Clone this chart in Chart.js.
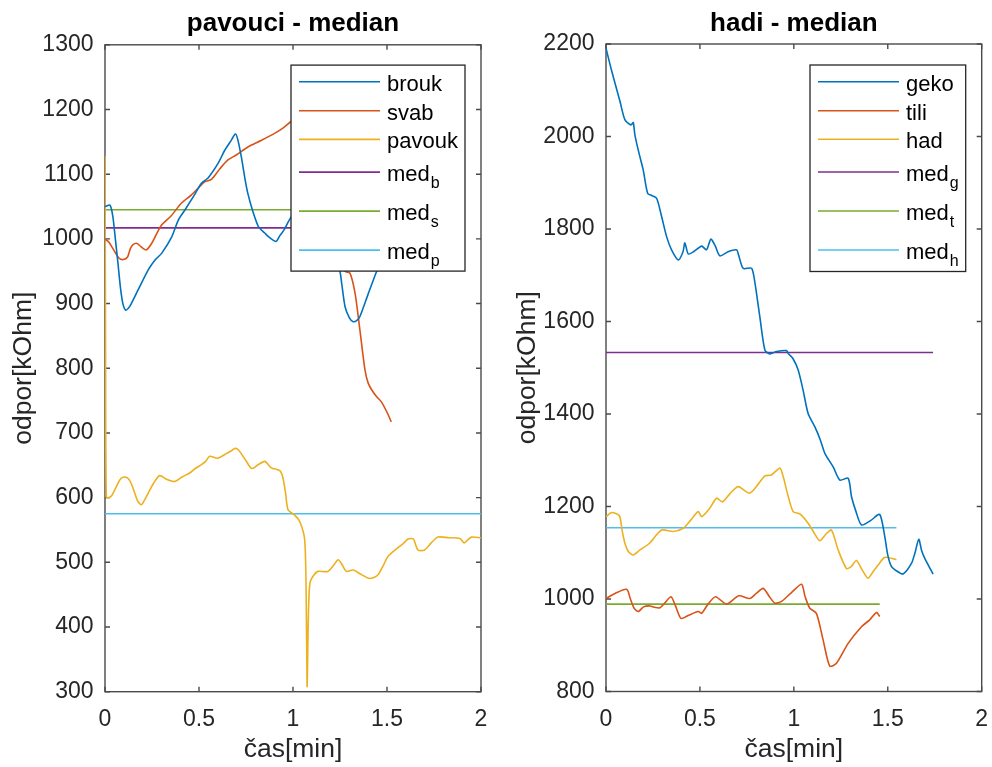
<!DOCTYPE html>
<html>
<head>
<meta charset="utf-8">
<title>pavouci / hadi - median</title>
<script src="https://cdn.jsdelivr.net/npm/chart.js@4/dist/chart.umd.min.js"></script>
<style>
  html, body { margin: 0; padding: 0; background: #ffffff; }
  #wrap { position: relative; width: 992px; height: 767px; overflow: hidden; }
  .pane { position: absolute; top: 0; width: 496px; height: 767px; }
</style>
</head>
<body>
<div id="wrap">
  <div class="pane" style="left:0"><canvas id="spiders" width="496" height="767"></canvas></div>
  <div class="pane" style="left:496px"><canvas id="snakes" width="496" height="767"></canvas></div>
</div>
<script>
// ---- tick values ----
const timeTicks = [0, 0.5, 1, 1.5, 2];
const spiderTicks = [300, 400, 500, 600, 700, 800, 900, 1000, 1100, 1200, 1300];
const snakeTicks = [800, 1000, 1200, 1400, 1600, 1800, 2000, 2200];

// ---- pavouci: resistance [kOhm] over time [min] ----
const broukT = [0, 0.027, 0.042, 0.055, 0.069, 0.082, 0.095, 0.11, 0.125, 0.14, 0.176, 0.23, 0.265, 0.302, 0.355, 0.39, 0.426, 0.48, 0.513, 0.548, 0.602, 0.637, 0.673, 0.693, 0.705, 0.725, 0.745, 0.76, 0.787, 0.816, 0.85, 0.88, 0.91, 0.93, 0.955, 0.98, 1.05, 1.12, 1.18, 1.249, 1.259, 1.277, 1.3, 1.32, 1.34, 1.356, 1.40, 1.445, 1.48, 1.5];
const broukV = [1050, 1052, 1034, 1000, 962, 925, 900, 890, 893, 900, 921, 952, 967, 978, 1003, 1029, 1045, 1070, 1086, 1094, 1117, 1137, 1153, 1162, 1155, 1127, 1092, 1070, 1042, 1019, 1009, 1001, 996, 1005, 1015, 1029, 1058, 1040, 1000, 950, 931, 895, 878, 872, 874, 880, 915, 950, 975, 985];

const svabT = [0, 0.02, 0.052, 0.075, 0.097, 0.12, 0.135, 0.149, 0.17, 0.195, 0.22, 0.248, 0.275, 0.3, 0.35, 0.406, 0.46, 0.53, 0.566, 0.61, 0.654, 0.7, 0.76, 0.83, 0.902, 0.95, 0.988, 1.05, 1.12, 1.18, 1.23, 1.277, 1.303, 1.33, 1.356, 1.383, 1.40, 1.42, 1.445, 1.47, 1.50, 1.523];
const svabV = [1000, 995, 980, 970, 968, 972, 985, 991, 993, 987, 983, 993, 1008, 1021, 1035, 1055, 1068, 1088, 1092, 1108, 1122, 1130, 1142, 1152, 1163, 1172, 1181, 1190, 1195, 1150, 1010, 950, 947, 916, 859, 797, 777, 766, 756, 748, 732, 717];

const pavoukT = [0, 0.003, 0.007, 0.02, 0.035, 0.052, 0.078, 0.09, 0.105, 0.118, 0.13, 0.145, 0.158, 0.175, 0.194, 0.21, 0.23, 0.26, 0.291, 0.33, 0.37, 0.41, 0.45, 0.48, 0.513, 0.535, 0.557, 0.6, 0.645, 0.67, 0.69, 0.705, 0.72, 0.75, 0.78, 0.81, 0.85, 0.885, 0.92, 0.935, 0.947, 0.96, 0.974, 1.009, 1.036, 1.062, 1.07, 1.075, 1.082, 1.09, 1.11, 1.133, 1.186, 1.215, 1.24, 1.26, 1.284, 1.32, 1.364, 1.408, 1.45, 1.48, 1.505, 1.56, 1.59, 1.612, 1.64, 1.665, 1.70, 1.735, 1.771, 1.83, 1.887, 1.91, 1.93, 1.95, 2.0];
const pavoukV = [1128, 850, 601, 600, 603, 612, 627, 631, 632, 631, 627, 618, 607, 594, 589, 596, 607, 623, 634, 628, 625, 632, 638, 645, 651, 656, 664, 661, 668, 672, 676, 675, 670, 657, 645, 650, 656, 646, 643, 640, 630, 608, 581, 573, 563, 535, 450, 308, 420, 468, 480, 486, 486, 495, 504, 497, 486, 488, 481, 475, 480, 495, 509, 523, 530, 536, 536, 519, 519, 530, 539, 538, 537, 530, 535, 539, 538];

const spiderMedians = [1017, 1045, 575];
const spiderMedianEnds = [1.5, 1.523, 2.0];

// ---- hadi: resistance [kOhm] over time [min] ----
const gekoT = [0, 0.025, 0.048, 0.075, 0.101, 0.133, 0.145, 0.154, 0.175, 0.198, 0.222, 0.245, 0.27, 0.296, 0.323, 0.349, 0.385, 0.41, 0.42, 0.438, 0.47, 0.509, 0.535, 0.558, 0.58, 0.606, 0.65, 0.695, 0.705, 0.73, 0.775, 0.793, 0.805, 0.819, 0.846, 0.872, 0.908, 0.961, 0.97, 0.995, 1.023, 1.05, 1.076, 1.112, 1.14, 1.165, 1.21, 1.245, 1.289, 1.307, 1.33, 1.36, 1.41, 1.457, 1.484, 1.5, 1.52, 1.55, 1.581, 1.626, 1.645, 1.665, 1.68, 1.697, 1.741];
const gekoV = [2191, 2150, 2115, 2075, 2036, 2025, 2030, 2003, 1965, 1928, 1877, 1872, 1866, 1827, 1783, 1755, 1733, 1751, 1770, 1746, 1752, 1763, 1755, 1778, 1765, 1742, 1751, 1755, 1745, 1715, 1715, 1683, 1650, 1610, 1538, 1530, 1535, 1537, 1531, 1520, 1495, 1450, 1401, 1372, 1345, 1315, 1285, 1257, 1261, 1221, 1190, 1160, 1170, 1183, 1135, 1095, 1070, 1060, 1054, 1077, 1100, 1129, 1105, 1088, 1054];

const tiliT = [0, 0.048, 0.11, 0.13, 0.15, 0.172, 0.2, 0.234, 0.26, 0.287, 0.31, 0.346, 0.37, 0.399, 0.44, 0.491, 0.509, 0.545, 0.583, 0.642, 0.707, 0.766, 0.8, 0.837, 0.87, 0.899, 0.935, 0.99, 1.041, 1.06, 1.085, 1.12, 1.156, 1.191, 1.227, 1.289, 1.36, 1.404, 1.44, 1.457];
const tiliV = [1001, 1012, 1021, 1000, 980, 973, 983, 985, 982, 981, 990, 1005, 985, 958, 965, 973, 969, 990, 1005, 989, 1007, 1001, 1012, 1023, 1005, 991, 995, 1015, 1032, 1005, 980, 969, 911, 855, 861, 904, 940, 955, 971, 962];

const hadT = [0, 0.03, 0.071, 0.085, 0.101, 0.12, 0.145, 0.181, 0.23, 0.296, 0.358, 0.411, 0.45, 0.491, 0.509, 0.55, 0.589, 0.62, 0.66, 0.704, 0.766, 0.846, 0.88, 0.926, 0.945, 0.961, 0.996, 1.032, 1.076, 1.105, 1.138, 1.17, 1.2, 1.236, 1.28, 1.305, 1.333, 1.365, 1.395, 1.42, 1.45, 1.484, 1.546];
const hadV = [1178, 1187, 1180, 1150, 1120, 1102, 1095, 1106, 1120, 1149, 1146, 1153, 1170, 1189, 1178, 1195, 1218, 1210, 1228, 1243, 1229, 1266, 1268, 1283, 1262, 1236, 1189, 1184, 1164, 1145, 1126, 1140, 1149, 1106, 1066, 1070, 1083, 1062, 1045, 1058, 1074, 1090, 1085];

const snakeMedians = [1533, 989, 1154];
const snakeMedianEnds = [1.741, 1.457, 1.546];

// ---- styling ----
const FONT = "'Liberation Sans', Arial, Helvetica, sans-serif";
const INK = '#262626';
const LINE_COLORS = ['#0072BD', '#D95319', '#EDB120', '#7E2F8E', '#77AC30', '#4DBEEE'];
Chart.defaults.font.family = FONT;
Chart.defaults.color = INK;

const points = (t, v) => t.map((x, i) => ({ x, y: v[i] }));
const flatLine = (value, end) => [{ x: 0, y: value }, { x: end, y: value }];

function series(label, data, idx) {
  return {
    label, data,
    borderColor: LINE_COLORS[idx],
    backgroundColor: LINE_COLORS[idx],
    borderWidth: 1.6,
    pointRadius: 0,
    tension: 0.25,
    fill: false
  };
}

// Axes frame with inward tick marks on all four sides
const axesBox = {
  id: 'axesBox',
  beforeDatasetsDraw(chart) {
    const { ctx, chartArea: a, scales: { x, y } } = chart;
    const L = 5;
    ctx.save();
    ctx.strokeStyle = '#4a4a4a';
    ctx.lineWidth = 1.4;
    ctx.beginPath();
    x.ticks.forEach(t => {
      const px = x.getPixelForValue(t.value);
      ctx.moveTo(px, a.bottom); ctx.lineTo(px, a.bottom - L);
      ctx.moveTo(px, a.top); ctx.lineTo(px, a.top + L);
    });
    y.ticks.forEach(t => {
      const py = y.getPixelForValue(t.value);
      ctx.moveTo(a.left, py); ctx.lineTo(a.left + L, py);
      ctx.moveTo(a.right, py); ctx.lineTo(a.right - L, py);
    });
    ctx.stroke();
    ctx.strokeRect(a.left, a.top, a.right - a.left, a.bottom - a.top);
    ctx.restore();
  }
};

// Legend box drawn inside the axes (north-east corner)
const insetLegend = {
  id: 'insetLegend',
  afterDatasetsDraw(chart, args, opts) {
    const { ctx, chartArea: a } = chart;
    const bx = a.right - opts.right - opts.width;
    const by = a.top + opts.top;
    ctx.save();
    ctx.fillStyle = '#ffffff';
    ctx.fillRect(bx, by, opts.width, opts.height);
    ctx.strokeStyle = INK;
    ctx.lineWidth = 1.3;
    ctx.strokeRect(bx, by, opts.width, opts.height);
    chart.data.datasets.forEach((ds, i) => {
      const ry = by + opts.rows[i];
      ctx.strokeStyle = ds.borderColor;
      ctx.lineWidth = 1.6;
      ctx.beginPath();
      ctx.moveTo(bx + 8, ry);
      ctx.lineTo(bx + 89, ry);
      ctx.stroke();
      const parts = ds.label.split('_');
      const tx = bx + 96;
      ctx.fillStyle = '#000000';
      ctx.textBaseline = 'alphabetic';
      ctx.textAlign = 'left';
      ctx.font = `22px ${FONT}`;
      ctx.fillText(parts[0], tx, ry + 9);
      if (parts[1]) {
        const w = ctx.measureText(parts[0]).width;
        ctx.font = `16px ${FONT}`;
        ctx.fillText(parts[1], tx + w + 1, ry + 16);
      }
    });
    ctx.restore();
  }
};

const plainNumber = v => String(v);

function makeChart(canvasId, cfg) {
  return new Chart(document.getElementById(canvasId), {
    type: 'line',
    data: { datasets: cfg.datasets },
    plugins: [axesBox, insetLegend],
    options: {
      responsive: false,
      animation: false,
      layout: { padding: { left: 0, right: cfg.padRight, top: 0, bottom: 0 } },
      plugins: {
        legend: { display: false },
        tooltip: { enabled: false },
        title: {
          display: true,
          text: cfg.title,
          fullSize: false,
          color: '#000000',
          font: { size: 26, weight: 'bold' },
          padding: { top: 8.6, bottom: cfg.titleGap }
        },
        insetLegend: cfg.legend
      },
      scales: {
        x: {
          type: 'linear',
          min: 0, max: 2,
          afterBuildTicks: s => { s.ticks = timeTicks.map(v => ({ value: v })); },
          afterFit: s => { s.height = cfg.xHeight; s.paddingLeft = 0; s.paddingRight = 0; },
          grid: { display: false, drawTicks: false },
          border: { display: false },
          ticks: { padding: 14.5, font: { size: 23 }, color: INK, maxRotation: 0, callback: plainNumber },
          title: { display: true, text: 'čas[min]', font: { size: 26.5 }, color: INK, padding: { top: 0, bottom: 1.1 } }
        },
        y: {
          type: 'linear',
          min: cfg.yMin, max: cfg.yMax,
          afterBuildTicks: s => { s.ticks = cfg.yTicks.map(v => ({ value: v })); },
          afterFit: s => { s.width = cfg.yWidth; s.paddingTop = 0; s.paddingBottom = 0; },
          grid: { display: false, drawTicks: false },
          border: { display: false },
          ticks: { padding: 11.5, font: { size: 23 }, color: INK, callback: plainNumber },
          title: { display: true, text: 'odpor[kOhm]', font: { size: 26.5 }, color: INK, padding: { top: cfg.yTitlePad, bottom: 0 } }
        }
      }
    }
  });
}

makeChart('spiders', {
  title: 'pavouci - median',
  datasets: [
    series('brouk', points(broukT, broukV), 0),
    series('svab', points(svabT, svabV), 1),
    series('pavouk', points(pavoukT, pavoukV), 2),
    series('med_b', flatLine(spiderMedians[0], spiderMedianEnds[0]), 3),
    series('med_s', flatLine(spiderMedians[1], spiderMedianEnds[1]), 4),
    series('med_p', flatLine(spiderMedians[2], spiderMedianEnds[2]), 5)
  ],
  yMin: 300, yMax: 1300, yTicks: spiderTicks,
  padRight: 15, yWidth: 105, xHeight: 75.3, titleGap: 5, yTitlePad: 8.1,
  legend: { right: 16, top: 20.3, width: 174, height: 206, rows: [16.7, 45.7, 74.3, 107, 146, 185] }
});

makeChart('snakes', {
  title: 'hadi - median',
  datasets: [
    series('geko', points(gekoT, gekoV), 0),
    series('tili', points(tiliT, tiliV), 1),
    series('had', points(hadT, hadV), 2),
    series('med_g', flatLine(snakeMedians[0], snakeMedianEnds[0]), 3),
    series('med_t', flatLine(snakeMedians[1], snakeMedianEnds[1]), 4),
    series('med_h', flatLine(snakeMedians[2], snakeMedianEnds[2]), 5)
  ],
  yMin: 800, yMax: 2200, yTicks: snakeTicks,
  padRight: 10.3, yWidth: 110, xHeight: 75.5, titleGap: 4.2, yTitlePad: 16.1,
  legend: { right: 16, top: 21, width: 155.7, height: 206.5, rows: [16.7, 45.7, 74.3, 107, 146, 185] }
});
</script>
</body>
</html>
